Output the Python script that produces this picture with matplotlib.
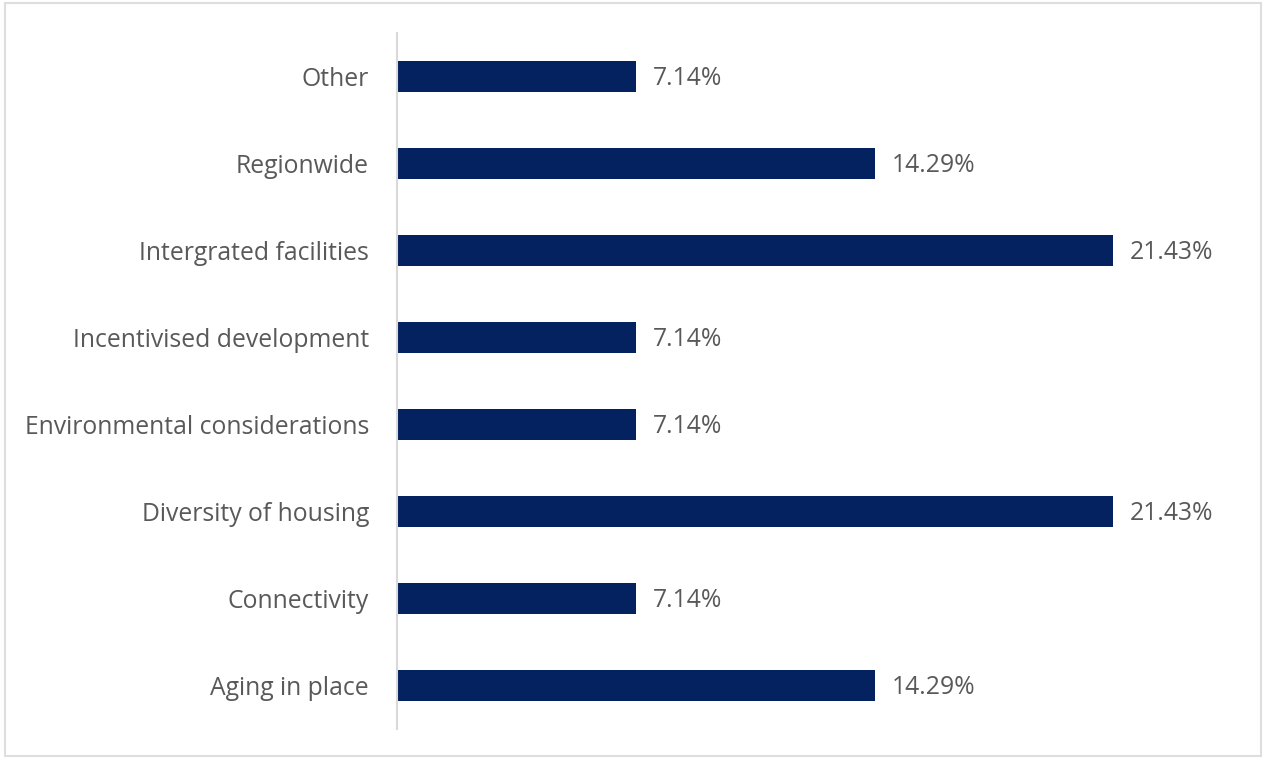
import matplotlib.pyplot as plt
from matplotlib.patches import Rectangle

categories = [
    "Aging in place",
    "Connectivity",
    "Diversity of housing",
    "Environmental considerations",
    "Incentivised development",
    "Intergrated facilities",
    "Regionwide",
    "Other",
]
shares = [14.29, 7.14, 21.43, 7.14, 7.14, 21.43, 14.29, 7.14]
value_labels = ["14.29%", "7.14%", "21.43%", "7.14%", "7.14%", "21.43%", "14.29%", "7.14%"]

W, H = 1264, 758
fig = plt.figure(figsize=(W / 100, H / 100), dpi=100)
plt.rcParams['font.family'] = ['Open Sans', 'DejaVu Sans']
FS = 17.8
TXT = '#595959'

# light frame around the whole chart area
fig.patches.append(Rectangle((5 / W, 2 / H), (1261 - 5) / W, (755 - 2) / H,
                             transform=fig.transFigure, fill=False,
                             edgecolor='#dedede', linewidth=1.5))

ax = fig.add_axes([397 / W, 29 / H, 820 / W, 696 / H])
ypos = list(range(len(categories)))
ax.barh(ypos, shares, height=0.36, color='#042160')
ax.set_xlim(0, 820 / 33.42)
ax.set_ylim(-0.5, len(categories) - 0.5)

for y, v, lab in zip(ypos, shares, value_labels):
    ax.annotate(lab, (v, y), xytext=(17, -2), textcoords='offset pixels',
                va='center', ha='left', fontsize=FS, color=TXT, annotation_clip=False)

ax.set_yticks(ypos)
ax.set_yticklabels(categories, fontsize=FS, color=TXT)
ax.tick_params(axis='y', length=0, pad=28 * 0.72)
ax.set_xticks([])
for s in ['top', 'right', 'bottom']:
    ax.spines[s].set_visible(False)
ax.spines['left'].set_color('#d9d9d9')
ax.spines['left'].set_linewidth(1.5)
ax.patch.set_alpha(0)

fig.savefig('out.png', dpi=100)
